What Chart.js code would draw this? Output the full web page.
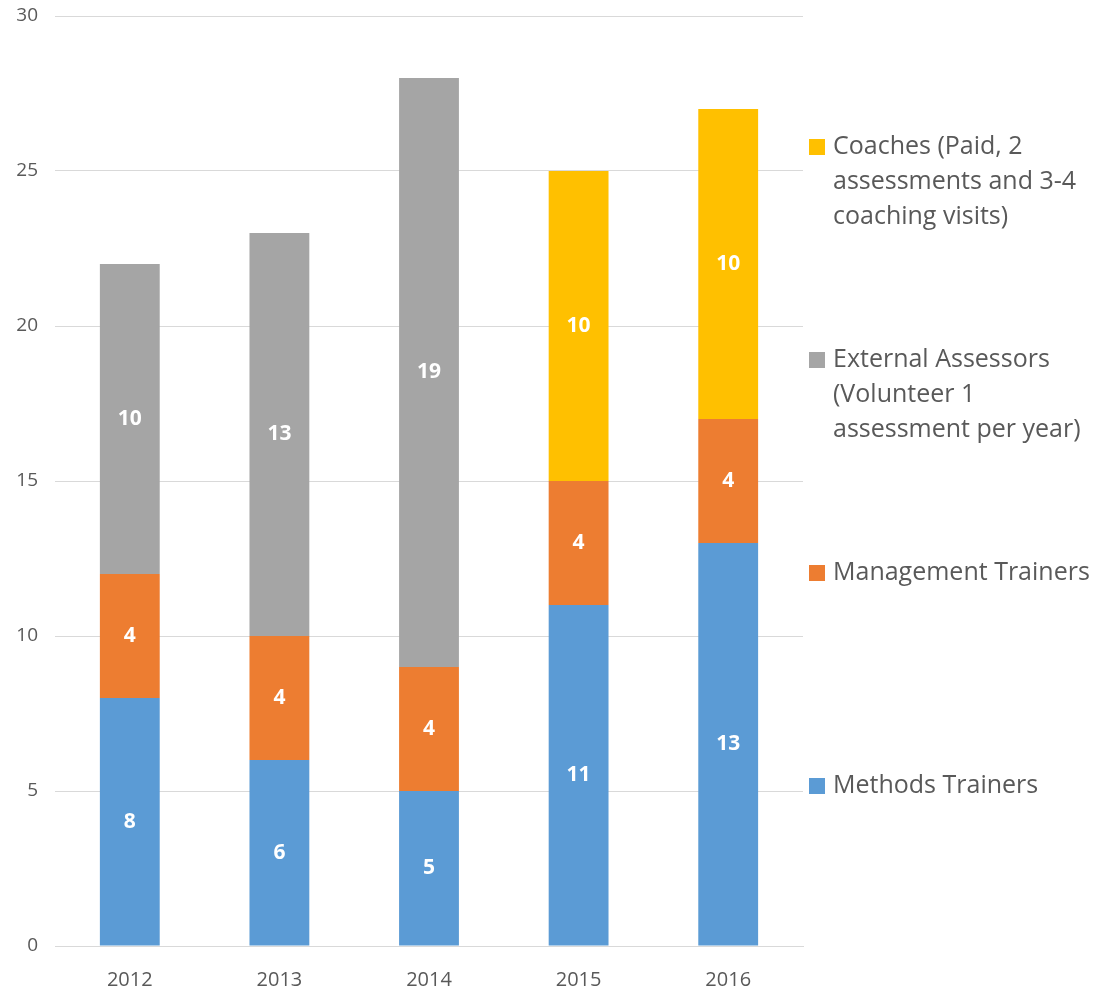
<!DOCTYPE html>
<html>
<head>
<meta charset="utf-8">
<script src="https://cdn.jsdelivr.net/npm/chart.js@4"></script>
<style>
  html, body { margin: 0; padding: 0; background: #fff; }
  #chart { display: block; }
</style>
</head>
<body>
<canvas id="chart" width="1106" height="989"></canvas>
<script>
const years = ['2012', '2013', '2014', '2015', '2016'];
const methodsTrainers = [8, 6, 5, 11, 13];
const managementTrainers = [4, 4, 4, 4, 4];
const externalAssessors = [10, 13, 19, 0, 0];
const coaches = [0, 0, 0, 10, 10];

// legend lines, top to bottom (wrapped as in the original)
const legendLines = [
  ['Coaches (Paid, 2', 'assessments and 3-4', 'coaching visits)'],
  ['External Assessors', '(Volunteer 1', 'assessment per year)'],
  ['Management Trainers'],
  ['Methods Trainers']
];

const FONT = '"Open Sans", sans-serif';
const TEXT = '#595959';

const segmentLabels = {
  id: 'segmentLabels',
  afterDatasetsDraw(chart) {
    const ctx = chart.ctx;
    ctx.save();
    ctx.font = 'bold 21px ' + FONT;
    ctx.fillStyle = '#ffffff';
    ctx.textAlign = 'center';
    ctx.textBaseline = 'middle';
    chart.data.datasets.forEach((ds, i) => {
      chart.getDatasetMeta(i).data.forEach((bar, j) => {
        const v = ds.data[j];
        if (!v) return;
        const p = bar.getProps(['x', 'y', 'base'], true);
        ctx.fillText(String(v), p.x, (p.y + p.base) / 2);
      });
    });
    ctx.restore();
  }
};

const sideLegend = {
  id: 'sideLegend',
  afterDraw(chart) {
    const ctx = chart.ctx;
    const x0 = chart.chartArea.right + 6;
    const order = chart.data.datasets.slice().reverse();
    ctx.save();
    ctx.font = '25px ' + FONT;
    ctx.textBaseline = 'middle';
    ctx.textAlign = 'left';
    order.forEach((ds, i) => {
      const y = 147 + i * 213;
      ctx.fillStyle = ds.backgroundColor;
      ctx.fillRect(x0, y - 8, 16, 16);
      ctx.fillStyle = TEXT;
      legendLines[i].forEach((line, k) => {
        ctx.fillText(line, x0 + 24, y + k * 35);
      });
    });
    ctx.restore();
  }
};

new Chart(document.getElementById('chart'), {
  type: 'bar',
  data: {
    labels: years,
    datasets: [
      { label: 'Methods Trainers', data: methodsTrainers, backgroundColor: '#5B9BD5' },
      { label: 'Management Trainers', data: managementTrainers, backgroundColor: '#ED7D31' },
      { label: 'External Assessors (Volunteer 1 assessment per year)', data: externalAssessors, backgroundColor: '#A5A5A5' },
      { label: 'Coaches (Paid, 2 assessments and 3-4 coaching visits)', data: coaches, backgroundColor: '#FFC000' }
    ]
  },
  options: {
    responsive: false,
    animation: false,
    barPercentage: 0.4,
    categoryPercentage: 1,
    layout: { padding: { top: 16, right: 303, left: 0, bottom: 0 } },
    plugins: {
      legend: { display: false },
      tooltip: { enabled: false }
    },
    scales: {
      x: {
        stacked: true,
        grid: { display: false },
        border: { color: '#D9D9D9' },
        ticks: { color: TEXT, font: { family: FONT, size: 20 }, padding: 14 },
        afterFit(scale) {
          scale.height = 43;
          scale.paddingLeft = 0;
          scale.paddingRight = 0;
        }
      },
      y: {
        stacked: true,
        min: 0,
        max: 30,
        ticks: { stepSize: 5, color: TEXT, font: { family: FONT, size: 19 }, padding: 17 },
        grid: { color: '#D9D9D9', drawTicks: false },
        border: { display: false },
        afterFit(scale) {
          scale.width = 55;
          scale.paddingTop = 0;
          scale.paddingBottom = 0;
        }
      }
    }
  },
  plugins: [segmentLabels, sideLegend]
});
</script>
</body>
</html>
